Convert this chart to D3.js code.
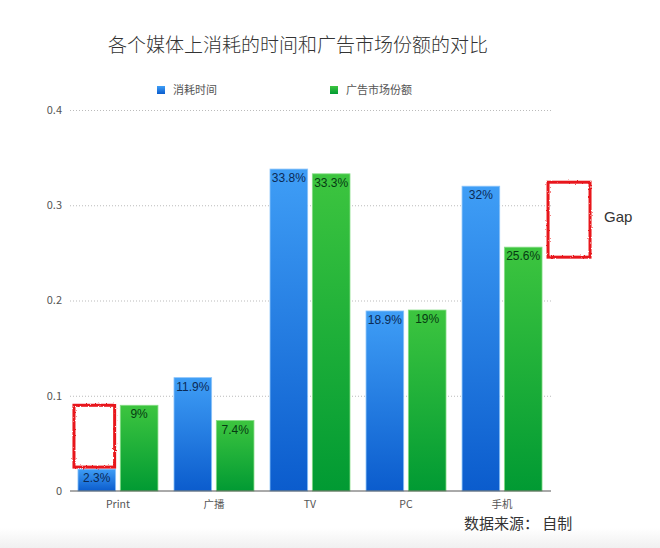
<!DOCTYPE html>
<html>
<head>
<meta charset="utf-8">
<script src="https://cdn.jsdelivr.net/npm/d3@7"></script>
<style>
  body { margin: 0; background: #fff; font-family: "Noto Sans CJK SC", "Noto Sans", sans-serif; }
  .axis-gridline line { stroke: #bbb; stroke-dasharray: 1,2; }
  .axis-gridline path { display: none; }
</style>
</head>
<body>
<div id="chart"></div>
<script>
var categories = ["Print", "广播", "TV", "PC", "手机"];
var series_names = ["消耗时间", "广告市场份额"];
var time_spent = [0.023, 0.119, 0.338, 0.189, 0.32];
var ad_share = [0.09, 0.074, 0.333, 0.19, 0.256];
var value_labels_time = ["2.3%", "11.9%", "33.8%", "18.9%", "32%"];
var value_labels_ad = ["9%", "7.4%", "33.3%", "19%", "25.6%"];
var y_ticks = [0, 0.1, 0.2, 0.3, 0.4];
// gap annotations: [category, low value, high value]
var gaps = [["Print", 0.023, 0.09], ["手机", 0.256, 0.32]];

var width = 660, height = 548;
var margin = { top: 110, right: 110, bottom: 57, left: 70 };
var w = width - margin.left - margin.right,
    h = height - margin.top - margin.bottom;

var svg = d3.select("#chart").append("svg")
  .attr("width", width).attr("height", height);

var defs = svg.append("defs");
function grad(id, c0, c1) {
  var g = defs.append("linearGradient").attr("id", id)
    .attr("x1", 0).attr("y1", 0).attr("x2", 0).attr("y2", 1);
  g.append("stop").attr("offset", "0%").attr("stop-color", c0);
  g.append("stop").attr("offset", "100%").attr("stop-color", c1);
}
grad("g-blue", "#3f9ef6", "#0b5ccd");
grad("g-green", "#3dc53f", "#019a33");

// rough red marker look
var f = defs.append("filter").attr("id", "rough").attr("x", "-10%").attr("y", "-10%").attr("width", "120%").attr("height", "120%");
f.append("feTurbulence").attr("type", "fractalNoise").attr("baseFrequency", 0.6).attr("numOctaves", 2).attr("result", "n");
f.append("feDisplacementMap").attr("in", "SourceGraphic").attr("in2", "n").attr("scale", 2.5);

// bottom faint gray band
var bg = defs.append("linearGradient").attr("id", "g-bg").attr("x1", 0).attr("y1", 0).attr("x2", 0).attr("y2", 1);
bg.append("stop").attr("offset", "0%").attr("stop-color", "#fff");
bg.append("stop").attr("offset", "100%").attr("stop-color", "#f0f0f0");
svg.append("rect").attr("x", 0).attr("y", 528).attr("width", width).attr("height", 20).attr("fill", "url(#g-bg)");

svg.append("text")
  .text("各个媒体上消耗的时间和广告市场份额的对比")
  .attr("x", 298).attr("y", 52)
  .attr("text-anchor", "middle")
  .style("font-size", "19px").style("font-weight", 300).attr("fill", "#333");

var chart = svg.append("g")
  .attr("transform", "translate(" + margin.left + "," + margin.top + ")");

var x0 = d3.scaleBand().domain(categories).range([0, w])
  .paddingInner(0.167).paddingOuter(0.083);
var x1 = d3.scaleBand().domain(series_names).range([0, x0.bandwidth()])
  .paddingInner(0.11);
var y = d3.scaleLinear().domain([0, 0.4]).range([h, 0]);

// grid
chart.append("g").attr("class", "axis-gridline")
  .call(d3.axisLeft(y).tickValues(y_ticks.slice(1)).tickSize(-(w + 1)).tickFormat(""));

// y labels
chart.selectAll(".ylab").data(y_ticks).enter().append("text")
  .attr("x", -8).attr("y", function (d) { return y(d); })
  .attr("dy", "0.35em").attr("text-anchor", "end")
  .style("font-size", "11px").attr("fill", "#555")
  .text(function (d) { return d === 0 ? "0" : d3.format(".1f")(d); });

// bars
var rows = categories.map(function (c, i) {
  return { cat: c, vals: [
    { s: series_names[0], v: time_spent[i], label: value_labels_time[i], fill: "url(#g-blue)", edge: "#8cc4fa" },
    { s: series_names[1], v: ad_share[i], label: value_labels_ad[i], fill: "url(#g-green)", edge: "#86dd86" }
  ]};
});

var grp = chart.selectAll(".grp").data(rows).enter().append("g")
  .attr("transform", function (d) { return "translate(" + x0(d.cat) + ",0)"; });

var bar = grp.selectAll(".bar").data(function (d) { return d.vals; }).enter();
bar.append("rect")
  .attr("x", function (d) { return x1(d.s); })
  .attr("y", function (d) { return y(d.v); })
  .attr("width", x1.bandwidth())
  .attr("height", function (d) { return h - y(d.v); })
  .attr("fill", function (d) { return d.fill; })
  .attr("stroke", function (d) { return d.edge; })
  .attr("stroke-width", 0.8);
bar.append("text")
  .attr("x", function (d) { return x1(d.s) + x1.bandwidth() / 2; })
  .attr("y", function (d) { return y(d.v) + 13; })
  .attr("text-anchor", "middle")
  .style("font-size", "12px")
  .style("font-family", "Liberation Sans, Arial, sans-serif")
  .attr("fill", function (d, i) { return i === 0 ? "#0b2a55" : "#063a12"; })
  .text(function (d) { return d.label; });

// baseline
chart.append("line").attr("x1", 0).attr("x2", w + 1).attr("y1", h).attr("y2", h)
  .attr("stroke", "#555").attr("stroke-width", 1);

// category labels
chart.selectAll(".xlab").data(categories).enter().append("text")
  .attr("x", function (d) { return x0(d) + x0.bandwidth() / 2; })
  .attr("y", h + 17)
  .attr("text-anchor", "middle")
  .style("font-size", "10.5px").attr("fill", "#555")
  .text(function (d) { return d; });

// legend
var legend_x = [87, 260];
series_names.forEach(function (s, i) {
  var g = chart.append("g").attr("transform", "translate(" + legend_x[i] + "," + (-14) + ")");
  g.append("rect").attr("x", 0).attr("y", -10).attr("width", 8).attr("height", 8)
    .attr("fill", i === 0 ? "url(#g-blue)" : "url(#g-green)");
  g.append("text").attr("x", 16).attr("y", -2)
    .style("font-size", "11px").attr("fill", "#555").text(s);
});

// gap annotations
chart.selectAll(".gap").data(gaps).enter().append("rect")
  .attr("x", function (d, i) { return i === 0 ? x0(d[0]) + x1(series_names[0]) - 4 : x0(d[0]) + x0.bandwidth() + 6; })
  .attr("y", function (d, i) { return y(d[2]) - (i === 0 ? 0 : 4); })
  .attr("width", function (d, i) { return i === 0 ? x1.bandwidth() + 3 : 42; })
  .attr("height", function (d, i) { return y(d[1]) - y(d[2]) - 2 + (i === 0 ? 0 : 16); })
  .attr("fill", "none").attr("stroke", "#e8141b").attr("stroke-width", 3)
  .attr("filter", "url(#rough)");

svg.append("text").text("Gap")
  .attr("x", 604).attr("y", 222)
  .style("font-size", "15px").attr("fill", "#333")
  .style("font-family", "Liberation Sans, Arial, sans-serif");

svg.append("text").text("数据来源： 自制")
  .attr("x", 464).attr("y", 529)
  .style("font-size", "15px").attr("fill", "#333");
</script>
</body>
</html>
